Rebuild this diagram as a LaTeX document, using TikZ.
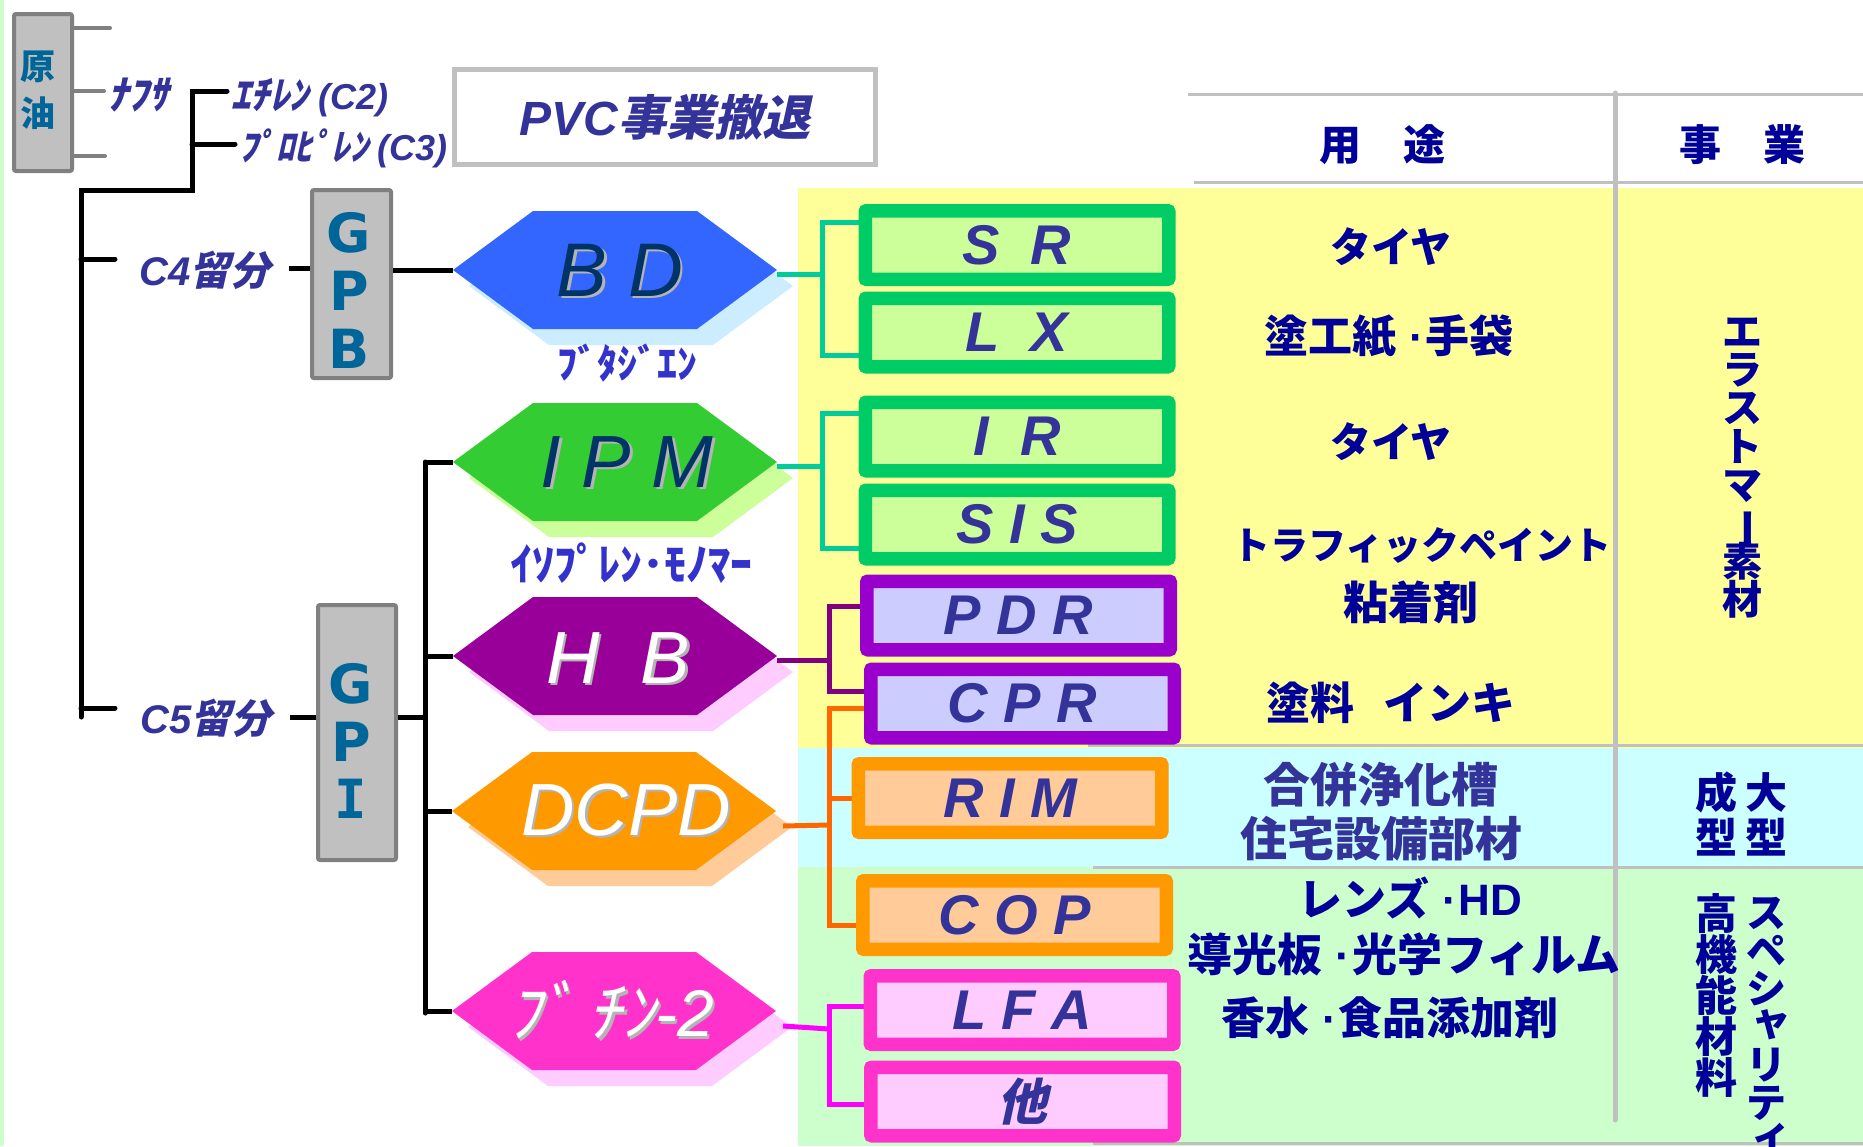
\documentclass[tikz,border=0pt]{standalone}
\usepackage{fontspec}
\setmainfont{Liberation Sans}
\newfontfamily\jp{Noto Sans CJK JP}
\newfontfamily\jpsl[FakeSlant=0.22]{Noto Sans CJK JP}
\newfontfamily\dvs{DejaVu Sans}
\newfontfamily\dvm{DejaVu Sans Mono}
\usetikzlibrary{calc}
\definecolor{navy}{HTML}{000099}
\definecolor{dblue}{HTML}{333399}
\definecolor{kblue}{HTML}{3333CC}
\definecolor{tealb}{HTML}{006699}
\definecolor{gfill}{HTML}{C0C0C0}
\definecolor{gline}{HTML}{808080}
\definecolor{lgray}{HTML}{C0C0C0}
\definecolor{yel}{HTML}{FFFF99}
\definecolor{cyn}{HTML}{CCFFFF}
\definecolor{lgrn}{HTML}{CCFFCC}
\definecolor{bdblue}{HTML}{3366FF}
\definecolor{bdsh}{HTML}{CCECFF}
\definecolor{ipmg}{HTML}{33CC33}
\definecolor{ipmsh}{HTML}{CCFF99}
\definecolor{hbp}{HTML}{990099}
\definecolor{hbsh}{HTML}{FFCCFF}
\definecolor{dco}{HTML}{FF9900}
\definecolor{dcsh}{HTML}{FFCC99}
\definecolor{btp}{HTML}{FF33CC}
\definecolor{btsh}{HTML}{FFCCFF}
\definecolor{gbord}{HTML}{00CC66}
\definecolor{gboxf}{HTML}{CCFF99}
\definecolor{pbord}{HTML}{9900CC}
\definecolor{pboxf}{HTML}{CCCCFF}
\definecolor{obord}{HTML}{FF9900}
\definecolor{oboxf}{HTML}{FFCC99}
\definecolor{mbord}{HTML}{FF33CC}
\definecolor{mboxf}{HTML}{FFCCFF}
\definecolor{ctea}{HTML}{00CC99}
\definecolor{cpur}{HTML}{800080}
\definecolor{cora}{HTML}{FF6600}
\definecolor{cmag}{HTML}{FF00FF}
\definecolor{hxnavy}{HTML}{003366}
\definecolor{shgray}{HTML}{B4B4B4}
\newcommand\fsz[2]{\fontsize{#1}{#2}\selectfont}
\newcommand\rtf[1]{\jp\bfseries\fontsize{#1}{#1}\selectfont}
\newcommand\vtf[2]{\jp\bfseries\fontsize{#1}{#2}\selectfont\lineskiplimit=-100pt\lineskip=0pt}
\newcommand\vch{\rotatebox[origin=c]{-90}{ー}}
\newcommand\vsm[1]{\hspace*{0.25em}\raisebox{0.15em}{#1}}
\newcommand\ldot{\hspace{0.3em}{\rmfamily\bfseries·}\hspace{0.03em}}
\newcommand\hexa[5]{%
  \begin{scope}[shift={(#2,#3)}]
  \fill[#5] (-146,16) -- (-66,-43) -- (98,-43) -- (178,16) -- (98,75) -- (-66,75) -- cycle;
  \fill[#4] (-162,0) -- (-82,-59) -- (82,-59) -- (162,0) -- (82,59) -- (-82,59) -- cycle;
  \coordinate (#1-w) at (-162,0);
  \coordinate (#1-e) at (162,0);
  \coordinate (#1-se) at (169,15);
  \end{scope}}
\begin{document}
\begin{tikzpicture}[x=1pt,y=-1pt,
  blk/.style={line width=5pt, line cap=round, draw=black},
  gstub/.style={line width=4pt, line cap=round, draw=gline},
  cn/.style={line width=5pt, draw=#1},
  rule/.style={line width=3pt, draw=lgray},
  graybox/.style={draw=gline, fill=gfill, line width=4pt, rounded corners=2pt, inner sep=0pt},
  lbl/.style={inner sep=0pt, text=dblue},
  pbox/.style 2 args={draw=#1, fill=#2, line width=9pt, rounded corners=3pt, minimum width=299pt, minimum height=64pt, inner sep=0pt, text=dblue, font=\bfseries\itshape\fsz{56}{56}},
  hxt/.style={inner sep=0pt, font=\itshape\fsz{74}{74}},
  rt/.style={inner sep=0pt, text=navy},
  vt/.style={inner sep=0pt, text=navy, align=center}]
\useasboundingbox (0,0) rectangle (1863,1146);
\fill[white] (0,0) rectangle (1863,1146);
\fill[lgrn] (0,0) rectangle (4,1146);
% bands
\fill[yel] (798,188) rectangle (1863,748);
\fill[cyn] (798,748) rectangle (1863,867);
\fill[lgrn] (798,867) rectangle (1863,1146);
% table rules
\draw[rule] (1188,94) -- (1863,94);
\draw[rule] (1194,182) -- (1863,182);
\draw[rule] (1088,745) -- (1863,745);
\draw[rule] (1093,867) -- (1863,867);
\draw[rule] (1093,1143) -- (1863,1143);
\draw[line width=5pt, draw=lgray, line cap=round] (1615,93) -- (1615,1120);

% crude oil
\node[graybox, minimum width=58pt, minimum height=157pt] (oil) at (43,92.5) {};
\node[inner sep=0pt, text=tealb, align=center, font=\jp\bfseries\fsz{35}{47}] (oil-t) at (37.5,90) {原\\油};
\coordinate (s1) at (110,28);
\coordinate (s2) at (104,91);
\coordinate (s3) at (105,156);
\draw[gstub] (oil.east |- s1) -- (s1);
\draw[gstub] (oil.east |- s2) -- (s2);
\draw[gstub] (oil.east |- s3) -- (s3);
\node[lbl, font=\jpsl\bfseries\fsz{40}{40}] (naph) at (138,95) {ﾅﾌｻ};
\node[lbl, anchor=west] (c2) at (231,98) {{\jpsl\bfseries\fsz{39}{39}ｴﾁﾚﾝ }{\bfseries\itshape\fsz{36}{36}(C2)}};
\node[lbl, anchor=west] (c3) at (239,148) {{\jpsl\bfseries\fsz{37}{37}ﾌﾟﾛﾋﾟﾚﾝ }{\bfseries\itshape\fsz{36}{36}(C3)}};

% PVC
\node[draw=lgray, line width=5pt, fill=white, minimum width=421pt, minimum height=95pt, inner sep=0pt, text=dblue] (pvc) at (665,117)
  {{\bfseries\itshape\fsz{48}{48}PVC}{\jpsl\bfseries\fsz{48}{48}事業撤退}};

% black trunk
\coordinate (b1) at (192,190);
\coordinate (b2) at (81,190);
\coordinate (b3) at (81,717);
\coordinate (e1) at (227,91);
\coordinate (e2) at (235,144);
\draw[blk] (e1) -| (b1) -- (b2) -- (b3);
\draw[blk] (e2) -- (e2 -| b1);
\coordinate (t4) at (115,259);
\coordinate (t5) at (115,708);
\draw[blk] (t4) -- (t4 -| b2);
\draw[blk] (t5) -- (t5 -| b2);

% C4 / C5
\node[lbl, font=\fsz{40}{40}] (c4) at (205,270) {{\bfseries\itshape C4}{\jpsl\bfseries 留分}};
\node[lbl, font=\fsz{40}{40}] (c5) at (206,718) {{\bfseries\itshape C5}{\jpsl\bfseries 留分}};
\node[graybox, minimum width=79pt, minimum height=188pt] (gpb) at (351.5,284) {};
\node[inner sep=0pt, text=tealb, align=center, font=\dvs\bfseries\fsz{54}{58}] (gpb-t) at (349,290) {G\\P\\B};
\node[graybox, minimum width=78pt, minimum height=255pt] (gpi) at (357,732.5) {};
\node[inner sep=0pt, text=tealb, align=center, font=\dvs\bfseries\fsz{54}{57.5}] (gpi-t) at (351,741) {G\\P\\{\dvm\bfseries I}};
\coordinate (c4r) at (289,268);
\coordinate (c5r) at (290,717);

% hexagons
\hexa{bd}{615}{270}{bdblue}{bdsh}
\hexa{ipm}{615}{462}{ipmg}{ipmsh}
\hexa{hb}{615}{656}{hbp}{hbsh}
\hexa{dc}{614}{811}{dco}{dcsh}
\hexa{bt}{614}{1011}{btp}{btsh}

\draw[blk, line cap=butt] (c4r) -- (c4r -| gpb.west);
\draw[blk, line cap=butt] (gpb.east |- bd-w) -- (bd-w);
\draw[blk, line cap=butt] (c5r) -- (c5r -| gpi.west);
\coordinate (v1) at (425,462);
\coordinate (v2) at (425,1013);
\draw[blk] (v1) -- (v2);
\draw[blk, line cap=butt] (gpi.east |- c5r) -- (c5r -| v1);
\draw[blk, line cap=butt] (v1) -- (ipm-w);
\draw[blk, line cap=butt] (hb-w -| v1) -- (hb-w);
\draw[blk, line cap=butt] (dc-w -| v1) -- (dc-w);
\draw[blk, line cap=butt] (bt-w -| v1) -- (bt-w);

% junctions of the coloured brackets
\coordinate (j1) at (822,274);
\coordinate (j2) at (822,466);
\coordinate (j3) at (829,660);
\coordinate (j4) at (829,825);
\coordinate (j5) at (829,1029);

% product boxes
\node[pbox={gbord}{gboxf}] (sr) at (1017,245) {S\ \ R};
\node[pbox={gbord}{gboxf}] (lx) at (1017,332.5) {L\ \ X};
\node[pbox={gbord}{gboxf}] (ir) at (1017,436.5) {I\ \ R};
\node[pbox={gbord}{gboxf}] (sis) at (1017,524.5) {S I S};
\node[pbox={pbord}{pboxf}] (pdr) at (1018.5,615.5) {P D R};
\node[pbox={pbord}{pboxf}] (cpr) at (1022.5,703.5) {C P R};
\node[pbox={obord}{oboxf}] (rim) at (1010,798) {R I M};
\node[pbox={obord}{oboxf}] (cop) at (1014.5,915) {C O P};
\node[pbox={mbord}{mboxf}] (lfa) at (1022,1010) {L F A};
\node[pbox={mbord}{mboxf}, font=\jpsl\bfseries\fsz{50}{50}] (oth) at (1022.5,1101.5) {他};

% coloured brackets
\draw[cn=ctea] ([yshift=-4pt]bd-e) -- (j1);
\draw[cn=ctea] ([yshift=22.5pt]sr.west) -| (j1) |- ([yshift=-22.5pt]lx.west);
\draw[cn=ctea] ([yshift=-4pt]ipm-e) -- (j2);
\draw[cn=ctea] ([yshift=23.5pt]ir.west) -| (j2) |- ([yshift=-23.5pt]sis.west);
\draw[cn=cpur] ([yshift=-4pt]hb-e) -- (j3);
\draw[cn=cpur] ([yshift=9.5pt]pdr.west) -| (j3) |- ([yshift=12.5pt]cpr.west);
\draw[cn=cora] (dc-se) -- (j4);
\draw[cn=cora] ([yshift=-4.5pt]cpr.west) -| (j4) |- ([yshift=-10pt]cop.west);
\draw[cn=cora] (j4 |- rim.west) -- (rim.west);
\draw[cn=cmag] (bt-se) -- (j5);
\draw[cn=cmag] ([yshift=4pt]lfa.west) -| (j5) |- ([yshift=-2.5pt]oth.west);

% box borders over connector ends
\foreach \b/\c in {sr/gbord,lx/gbord,ir/gbord,sis/gbord,pdr/pbord,cpr/pbord,rim/obord,cop/obord,lfa/mbord,oth/mbord}{
  \draw[draw=\c, line width=9pt, rounded corners=3pt] (\b.north west) rectangle (\b.south east);
}

% hexagon texts
\node[hxt, text=shgray, font=\itshape\fsz{76}{76}] (bd-ts) at (622.5,272.5) {B D};
\node[hxt, text=hxnavy, font=\itshape\fsz{76}{76}] (bd-t) at (620,270) {B D};
\node[hxt, text=shgray] (ipm-ts) at (629.5,464.5) {I P M};
\node[hxt, text=hxnavy] (ipm-t) at (627,462) {I P M};
\node[hxt, text=shgray] (hb-ts) at (620.5,660.5) {H\ \ B};
\node[hxt, text=white] (hb-t) at (618,658) {H\ \ B};
\node[hxt, text=shgray] (dc-ts) at (628.5,812.5) {DCPD};
\node[hxt, text=white] (dc-t) at (626,810) {DCPD};
\node[hxt, text=shgray] (bt-ts) at (613.5,1012.5) {{\jpsl\fsz{66}{66}ﾌﾞ ﾁﾝ}{\fsz{66}{66}-2}};
\node[hxt, text=white] (bt-t) at (611,1010) {{\jpsl\fsz{66}{66}ﾌﾞ ﾁﾝ}{\fsz{66}{66}-2}};
\node[lbl, text=kblue, font=\jp\bfseries\fsz{40}{40}] (bd-n) at (627,363) {ﾌﾞﾀｼﾞｴﾝ};
\node[lbl, text=kblue, font=\jp\bfseries\fsz{44}{44}] (ipm-n) at (631,563) {ｲｿﾌﾟﾚﾝ･ﾓﾉﾏｰ};

% header
\node[rt, font=\rtf{42}] (h-use) at (1382,145) {用　途};
\node[rt, font=\rtf{42}] (h-biz) at (1742,145) {事　業};

% uses
\node[rt, font=\rtf{41}] (u1) at (1391,247) {タイヤ};
\node[rt, font=\rtf{44}] (u2) at (1389,336) {塗工紙\ldot 手袋};
\node[rt, font=\rtf{41}] (u3) at (1391,442) {タイヤ};
\node[rt, font=\rtf{38}] (u4) at (1422,546) {トラフィックペイント};
\node[rt, font=\rtf{45}] (u5) at (1411,602) {粘着剤};
\node[rt, font=\rtf{44}] (u6) at (1391,703) {塗料\hspace{30pt}インキ};
\node[rt, text=dblue, font=\rtf{47}] (u7) at (1381,785) {合併浄化槽};
\node[rt, text=dblue, font=\rtf{47}] (u8) at (1381,839) {住宅設備部材};
\node[rt, font=\rtf{44}] (u9) at (1410,898) {レンズ\ldot{\rmfamily\bfseries HD}};
\node[rt, font=\rtf{45}] (u10) at (1404,954) {導光板\ldot 光学フィルム};
\node[rt, font=\rtf{44}] (u11) at (1390,1018) {香水\ldot 食品添加剤};

% business (vertical)
\node[vt, font=\vtf{40}{38.4}] (b-el) at (1742,468) {エ\\ラ\\ス\\ト\\マ\\\vch\\素\\材};
\node[vt, font=\vtf{42}{45}] (b-lg) at (1766,814) {大\\型};
\node[vt, font=\vtf{42}{45}] (b-mo) at (1716,814) {成\\型};
\node[vt, font=\vtf{42}{41}] (b-hf) at (1716,995) {高\\機\\能\\材\\料};
\node[vt, font=\vtf{40}{38}] (b-sp) at (1766,1026) {ス\\ペ\\シ\\\vsm{ャ}\\リ\\テ\\\vsm{ィ}};
\end{tikzpicture}
\end{document}
